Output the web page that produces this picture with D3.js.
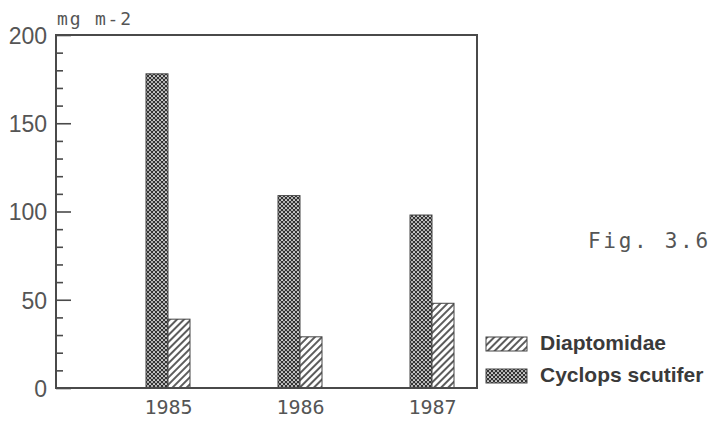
<!DOCTYPE html>
<html>
<head>
<meta charset="utf-8">
<script src="https://cdn.jsdelivr.net/npm/d3@7"></script>
<style>
  body { margin: 0; background: #fff; }
  svg { display: block; }
</style>
</head>
<body>
<svg class="main" width="711" height="422"></svg>
<script>
var YEARS = ["1985", "1986", "1987"];
var CYCLOPS = [178, 109, 98];     // Cyclops scutifer, mg m-2
var DIAPTOMIDAE = [39, 29, 48];   // Diaptomidae, mg m-2
var Y_MAJOR = [0, 50, 100, 150, 200];
var SERIES_NAMES = ["Diaptomidae", "Cyclops scutifer"];

var INK = "#4a4a4a";
var PLOT = { left: 56, top: 35, right: 477, bottom: 388 };
var BAR_W = 22;

var svg = d3.select("svg.main");
var defs = svg.append("defs");

// diagonal hatch for Diaptomidae
var hatch = defs.append("pattern")
  .attr("id", "hatch")
  .attr("patternUnits", "userSpaceOnUse")
  .attr("width", 5).attr("height", 5)
  .attr("patternTransform", "rotate(45)");
hatch.append("rect").attr("width", 5).attr("height", 5).attr("fill", "#fff");
hatch.append("line")
  .attr("x1", 1).attr("y1", 0).attr("x2", 1).attr("y2", 5)
  .attr("stroke", "#333").attr("stroke-width", 1.6);

// dense cross texture for Cyclops
var cross = defs.append("pattern")
  .attr("id", "cross")
  .attr("patternUnits", "userSpaceOnUse")
  .attr("width", 4).attr("height", 4);
cross.append("rect").attr("width", 4).attr("height", 4).attr("fill", "#b0b0b0");
cross.append("path")
  .attr("d", "M0,0L4,4M4,0L0,4")
  .attr("stroke", "#333").attr("stroke-width", 1);
cross.append("rect").attr("x", 1.5).attr("y", 0).attr("width", 1).attr("height", 1).attr("fill", "#e6e6e6");

var y = d3.scaleLinear().domain([0, 200]).range([PLOT.bottom, PLOT.top]);
var x = d3.scalePoint().domain(YEARS).range([168, 432]);

// bars
var groups = svg.append("g").selectAll("g")
  .data(YEARS)
  .join("g");

groups.append("rect")
  .attr("x", function(d) { return x(d) - BAR_W; })
  .attr("y", function(d, i) { return y(CYCLOPS[i]); })
  .attr("width", BAR_W)
  .attr("height", function(d, i) { return y(0) - y(CYCLOPS[i]); })
  .attr("fill", "url(#cross)")
  .attr("stroke", "#444").attr("stroke-width", 1);

groups.append("rect")
  .attr("x", function(d) { return x(d); })
  .attr("y", function(d, i) { return y(DIAPTOMIDAE[i]); })
  .attr("width", BAR_W)
  .attr("height", function(d, i) { return y(0) - y(DIAPTOMIDAE[i]); })
  .attr("fill", "url(#hatch)")
  .attr("stroke", "#444").attr("stroke-width", 1);

// frame
svg.append("path")
  .attr("d", "M" + PLOT.left + "," + PLOT.top + "H" + PLOT.right + "V" + PLOT.bottom + "H" + PLOT.left + "Z")
  .attr("fill", "none")
  .attr("stroke", INK)
  .attr("stroke-width", 2);

// minor ticks every 10, inward
var minor = d3.range(10, 200, 10).filter(function(v) { return v % 50 != 0; });
svg.append("g")
  .attr("transform", "translate(" + PLOT.left + ",0)")
  .call(d3.axisLeft(y).tickValues(minor).tickSizeInner(-7).tickSizeOuter(0).tickFormat(""))
  .call(function(g) { g.select(".domain").remove(); })
  .selectAll("line").attr("stroke", INK).attr("stroke-width", 1.6);

// major ticks with labels
var yAxis = svg.append("g")
  .attr("transform", "translate(" + PLOT.left + ",0)")
  .call(d3.axisLeft(y).tickValues(Y_MAJOR).tickSizeInner(-15).tickSizeOuter(0).tickPadding(9));
yAxis.select(".domain").remove();
yAxis.selectAll("line").attr("stroke", INK).attr("stroke-width", 1.6);
yAxis.selectAll("text")
  .attr("font-family", "Liberation Sans, Arial, sans-serif")
  .attr("font-size", 23)
  .attr("fill", "#555")
  .attr("dy", "0.36em");

// year labels
var xAxis = svg.append("g")
  .attr("transform", "translate(0," + PLOT.bottom + ")")
  .call(d3.axisBottom(x).tickSize(0).tickPadding(12));
xAxis.select(".domain").remove();
xAxis.selectAll("text")
  .attr("font-family", "DejaVu Sans Mono, monospace")
  .attr("font-size", 20)
  .attr("fill", "#555");

// unit label
svg.append("text")
  .attr("x", 57).attr("y", 25)
  .attr("font-family", "DejaVu Sans Mono, monospace")
  .attr("font-size", 18)
  .attr("letter-spacing", 1.8)
  .attr("fill", "#555")
  .text("mg m-2");

// figure label
svg.append("text")
  .attr("x", 588).attr("y", 248)
  .attr("font-family", "DejaVu Sans Mono, monospace")
  .attr("font-size", 21)
  .attr("letter-spacing", 2.7)
  .attr("fill", "#555")
  .text("Fig. 3.6");

// legend
var legend = svg.append("g").selectAll("g")
  .data(SERIES_NAMES)
  .join("g")
  .attr("transform", function(d, i) { return "translate(486," + (337 + i * 32) + ")"; });

legend.append("rect")
  .attr("width", 41).attr("height", 14)
  .attr("fill", function(d, i) { return i == 0 ? "url(#hatch)" : "url(#cross)"; })
  .attr("stroke", "#444").attr("stroke-width", 1);

legend.append("text")
  .attr("x", 54).attr("y", 13)
  .attr("font-family", "Liberation Sans, Arial, sans-serif")
  .attr("font-weight", "bold")
  .attr("font-size", 21)
  .attr("fill", "#3a3a3a")
  .text(function(d) { return d; });
</script>
</body>
</html>
